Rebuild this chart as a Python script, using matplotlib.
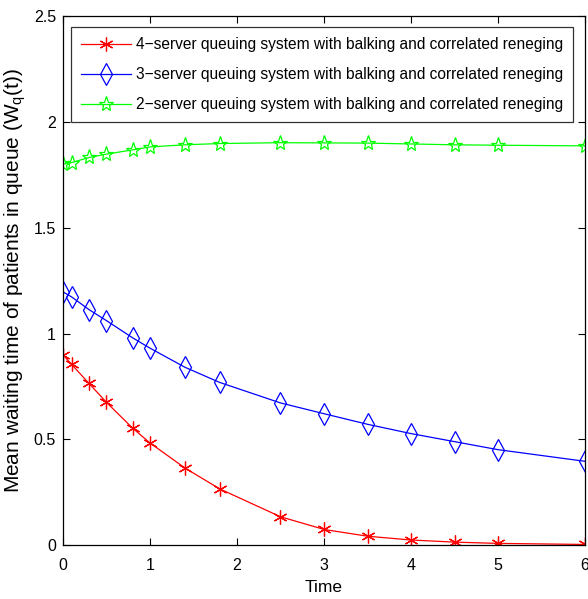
import matplotlib
matplotlib.use('Agg')
import matplotlib.pyplot as plt

plt.rcParams['font.family'] = ['Liberation Sans', 'DejaVu Sans']

# time points used for all three systems
t = [0, 0.1, 0.3, 0.5, 0.8, 1.0, 1.4, 1.8, 2.5, 3, 3.5, 4, 4.5, 5, 6]

# mean waiting time in queue for each configuration
wq_4server = [0.90, 0.854, 0.764, 0.675, 0.553, 0.483, 0.365, 0.266, 0.134,
              0.074, 0.042, 0.024, 0.014, 0.008, 0.003]
wq_3server = [1.197, 1.173, 1.113, 1.061, 0.980, 0.931, 0.841, 0.769, 0.672,
              0.621, 0.571, 0.527, 0.489, 0.451, 0.396]
wq_2server = [1.800, 1.808, 1.832, 1.848, 1.868, 1.882, 1.892, 1.898, 1.902,
              1.901, 1.900, 1.896, 1.892, 1.890, 1.887]

labels = ['4\u2212server queuing system with balking and correlated reneging',
          '3\u2212server queuing system with balking and correlated reneging',
          '2\u2212server queuing system with balking and correlated reneging']

fig = plt.figure(figsize=(5.88, 5.99), dpi=100)
ax = fig.add_axes([0.107, 0.090, 0.888, 0.883])

asterisk = (6, 2, 0)
ax.plot(t, wq_4server, color='red', lw=0.9, marker=asterisk, ms=10, mew=0.9,
        label=labels[0])
ax.plot(t, wq_3server, color='blue', lw=0.9, marker='d', ms=11, mew=0.9,
        mfc='none', label=labels[1])
ax.plot(t, wq_2server, color='lime', lw=0.9, marker='*', ms=11, mew=0.9,
        mfc='none', label=labels[2])

ax.set_xlim(0, 6)
ax.set_ylim(0, 2.5)
ax.set_xticks(range(7))
ax.set_yticks([0, 0.5, 1, 1.5, 2, 2.5])
ax.set_yticklabels(['0', '0.5', '1', '1.5', '2', '2.5'])
ax.tick_params(direction='in', top=True, right=True, labelsize=11.5, length=5,
               width=0.8, pad=5)
ax.tick_params(axis='x', pad=9)
for s in ax.spines.values():
    s.set_linewidth(0.9)

ax.set_xlabel('Time', fontsize=12.5, labelpad=5)
ax.set_ylabel('Mean waiting time of patients in queue (W$_\\mathregular{q}$(t))',
              fontsize=15, labelpad=4)

leg = ax.legend(loc='upper left', bbox_to_anchor=(0.0153, 0.979),
                borderaxespad=0, fontsize=11.2, frameon=True, fancybox=False,
                edgecolor='black', handlelength=3.2, borderpad=0.65,
                labelspacing=0.95, handletextpad=0.35)
leg.get_frame().set_linewidth(0.9)

fig.savefig('out.png', dpi=100)
